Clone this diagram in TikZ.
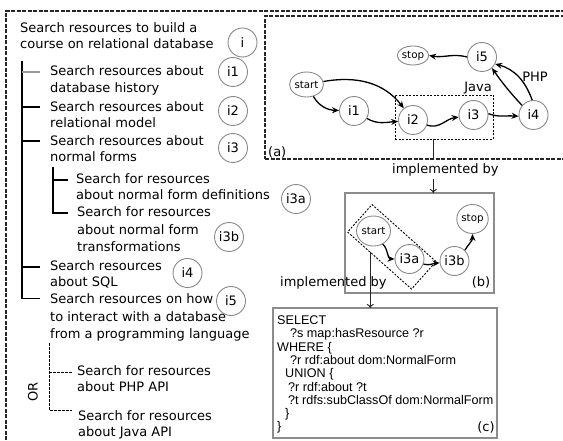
\documentclass[tikz,border=0pt]{standalone}
\usepackage{fontspec}
\setmainfont{DejaVu Sans}
\newfontfamily\arialf{Liberation Sans}
\usetikzlibrary{arrows.meta,calc,shapes.geometric}
\definecolor{circgray}{HTML}{8A8A8A}
\definecolor{boxgray}{HTML}{8C8C8C}
\newcommand{\dvf}{\fontsize{13}{16}\selectfont}
\newcommand{\smf}{\fontsize{10.3}{12}\selectfont}
\begin{document}
\begin{tikzpicture}[x=1pt,y=-1pt,
  txt/.style={anchor=base west, inner sep=0pt, font=\dvf},
  lab/.style={anchor=base, inner sep=0pt, font=\dvf},
  circ/.style={circle, draw=circgray, line width=0.9pt, minimum size=29pt, inner sep=0pt, font=\dvf},
  small/.style={ellipse, draw=circgray, line width=0.9pt, inner sep=0pt, font=\smf},
  tree/.style={line width=1.1pt, draw=black},
  ortree/.style={line width=0.8pt, draw=black, dash pattern=on 2.5pt off 1.5pt},
  edge/.style={line width=1.3pt, -{Stealth[length=7pt,width=6pt]}},
  impl/.style={line width=0.9pt, draw=black!85},
  implarrow/.style={line width=0.9pt, draw=black!85, -{To[length=4pt,width=7pt]}},
  code/.style={anchor=base west, inner sep=0pt, font=\arialf\fontsize{12.6}{14}\selectfont},
  solidbox/.style={draw=boxgray, line width=1.2pt, inner sep=0pt, outer sep=0pt},
  dotbox/.style={draw=black, line width=0.9pt, dash pattern=on 2pt off 1.5pt, inner sep=0pt, outer sep=0pt},
  outerbox/.style={draw=black!85, line width=1.1pt, dash pattern=on 4pt off 1.5pt, inner sep=0pt, outer sep=0pt},
]
\useasboundingbox (0,0) rectangle (563,441);
\clip (0,0) rectangle (563,441);

% outer dashed border and box (a)
\node[outerbox, minimum width=700pt, minimum height=600pt, anchor=north west] (outer) at (6,11) {};
\node[outerbox, line width=1.3pt, minimum width=400pt, minimum height=143pt, anchor=north west] (boxa) at (265,16) {};
% box (b) and box (c)
\node[solidbox, minimum width=149pt, minimum height=100pt, anchor=north west] (boxb) at (345,193) {};
\node[solidbox, minimum width=224pt, minimum height=130pt, anchor=north west] (boxc) at (273,308) {};

% ---------------- left text tree ----------------
\node[txt] (t0a) at (20,32.3) {Search resources to build a};
\node[txt] (t0b) at (20,49) {course on relational database};
\node[txt] (t1a) at (50,76) {Search resources about};
\node[txt] (t1b) at (50,92.5) {database history};
\node[txt] (t2a) at (50,111.5) {Search resources about};
\node[txt] (t2b) at (50,128) {relational model};
\node[txt] (t3a) at (50,145.5) {Search resources about};
\node[txt] (t3b) at (50,162) {normal forms};
\node[txt] (t3aa) at (76,184) {Search for resources};
\node[txt] (t3ab) at (76,200) {about normal form definitions};
\node[txt] (t3ba) at (77,217) {Search for resources};
\node[txt] (t3bb) at (77,235) {about normal form};
\node[txt] (t3bc) at (77,251.5) {transformations};
\node[txt] (t4a) at (50,270.7) {Search resources};
\node[txt] (t4b) at (50,287) {about SQL};
\node[txt] (t5a) at (50,303) {Search resources on how};
\node[txt] (t5b) at (50,321.5) {to interact with a database};
\node[txt] (t5c) at (50,338) {from a programming language};
\node[txt] (tpa) at (77,375.7) {Search for resources};
\node[txt] (tpb) at (77,391) {about PHP API};
\node[txt] (tja) at (78,420.7) {Search for resources};
\node[txt] (tjb) at (78,436) {about Java API};
\node[rotate=90, inner sep=0pt, font=\dvf] (or) at (33,392) {OR};

\draw[tree] (22,61) -- (22,298.5) -- (40,298.5);
\draw[tree, draw=black!40] (22,72) -- (40,72);
\draw[tree] (22,107) -- (40,107);
\draw[tree] (22,141) -- (40,141);
\draw[tree] (22,267) -- (40,267);
\draw[tree] (53,167) -- (53,213) -- (68,213);
\draw[tree] (53,180) -- (68,180);
\draw[ortree] (49,343) -- (49,410) -- (72,410);
\draw[ortree] (49,372) -- (72,372);

\node[circ] (ci) at (242.5,42.5) {i};
\node[circ] (ci1) at (233,72) {i1};
\node[circ] (ci2) at (233,111) {i2};
\node[circ] (ci3) at (233,148) {i3};
\node[circ] (ci3a) at (296,199) {i3a};
\node[circ] (ci3b) at (229,237) {i3b};
\node[circ] (ci4) at (187.5,273) {i4};
\node[circ] (ci5) at (231,301) {i5};

% ---------------- graph (a) ----------------
\node[small, minimum width=27.5pt, minimum height=25pt] (sa) at (306.5,84.5) {start};
\node[small, minimum width=28pt, minimum height=19pt] (sta) at (413,55.5) {stop};
\node[circ] (a1) at (354,111) {i1};
\node[circ] (a2) at (413,120) {i2};
\node[circ] (a3) at (473.5,115) {i3};
\node[circ] (a4) at (533.5,115) {i4};
\node[circ] (a5) at (482,57) {i5};
\node[dotbox, minimum width=98pt, minimum height=44pt] (adot) at (444,117) {};

\draw[edge] (sa) to[out=10,in=128] (a2);
\draw[edge] (sa) to[out=-60,in=178] (a1);
\draw[edge] (a1) to[out=-30,in=185] (a2);
\draw[edge] (a2) to[out=-20,in=188] (a3);
\draw[edge] (a3.5) to[out=-20,in=175] (a4.185);
\draw[edge] (a4.140) to[bend left=4] (a5.-48);
\draw[edge] (a4.95) to[out=110,in=-15] (a5.-28);
\draw[edge] (a5.west) to[out=165,in=-10] (sta.east);
\node[lab] (java) at (478,91.5) {Java};
\node[lab] (php) at (535,81.8) {PHP};
\node[txt] (la) at (268,156.5) {(a)};

% implemented by (a) -> (b)
\coordinate (p1) at ($(adot.south west)!0.39!(adot.south east)$);
\node[txt] (impl1) at (392,174) {implemented by};
\draw[impl] (p1) -- (p1 |- boxa.south);
\draw[implarrow] (p1 |- 0,179) -- (p1 |- boxb.north);

% ---------------- graph (b) ----------------
\node[small, minimum size=30pt] (sb) at (373.5,231) {start};
\node[circ] (b3a) at (409.5,259) {i3a};
\node[circ] (b3b) at (454.5,261) {i3b};
\node[small, minimum size=29pt] (stb) at (472.5,219) {stop};
\node[dotbox, minimum width=85.7pt, minimum height=36.8pt, rotate=-41.7] (bdot) at (391.8,246.8) {};
\draw[edge] (sb.-55) to[out=-40,in=178] (b3a.west);
\draw[edge] (b3a.-20) to[out=-15,in=185] (b3b.187);
\draw[edge] (b3b.46) to[out=60,in=-90] (stb.south);
\node[lab] (lb) at (481,286.5) {(b)};

% implemented by (b) -> (c)
\coordinate (p2) at ($(bdot.south west)!0.354!(bdot.south east)$);
\node[txt] (impl2) at (280,287) {implemented by};
\draw[implarrow] (p2) -- (p2 |- boxc.north);

% ---------------- box (c) ----------------
\node[code] (c1) at (277,324.5) {SELECT};
\node[code] (c2) at (290,337.8) {?s map:hasResource ?r};
\node[code] (c3) at (277,351.1) {WHERE \{};
\node[code] (c4) at (290,364.4) {?r rdf:about dom:NormalForm};
\node[code] (c5) at (285,377.7) {UNION \{};
\node[code] (c6) at (288,391) {?r rdf:about ?t};
\node[code] (c7) at (288,404.3) {?t rdfs:subClassOf dom:NormalForm};
\node[code] (c8) at (285,417.6) {\}};
\node[code] (c9) at (277,430.9) {\}};
\node[lab] (lc) at (486,431.5) {(c)};
\end{tikzpicture}
\end{document}
